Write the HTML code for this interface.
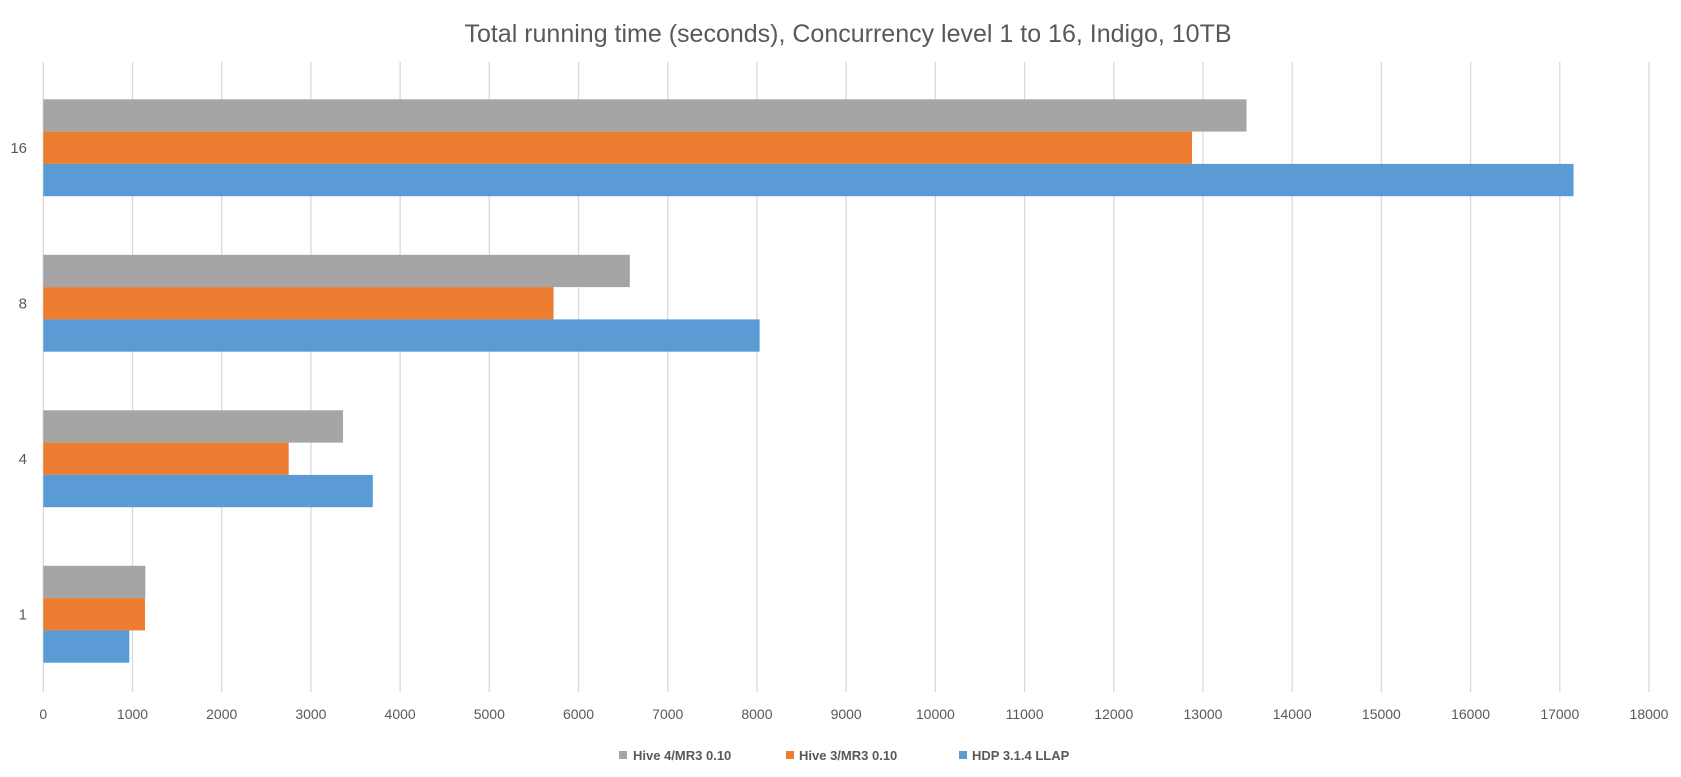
<!DOCTYPE html>
<html><head><meta charset="utf-8"><style>
html,body{margin:0;padding:0;background:#fff;}
svg{display:block;font-family:"Liberation Sans",sans-serif;}
</style></head><body>
<svg id="chart" width="1681" height="777" viewBox="0 0 1681 777">
<text x="848" y="42" text-anchor="middle" font-size="25" fill="#595959">Total running time (seconds), Concurrency level 1 to 16, Indigo, 10TB</text>
<g id="grid"></g>
<g id="bars"></g>
<g id="xlabels"></g>
<g id="ylabels"></g>
<g font-size="13" font-weight="bold" fill="#595959">
 <rect x="619" y="751" width="8" height="8" fill="#a5a5a5"/>
 <text x="633" y="760">Hive 4/MR3 0.10</text>
 <rect x="786" y="751" width="8" height="8" fill="#ed7d31"/>
 <text x="799" y="760">Hive 3/MR3 0.10</text>
 <rect x="959" y="751" width="8" height="8" fill="#5b9bd5"/>
 <text x="972" y="760">HDP 3.1.4 LLAP</text>
</g>
</svg>
<script>
const categories = ["16","8","4","1"];
const hive4 = [13488, 6575, 3360, 1144];
const hive3 = [12877, 5720, 2751, 1140];
const hdp = [17154, 8030, 3694, 964];
const xTicks = [0,1000,2000,3000,4000,5000,6000,7000,8000,9000,10000,11000,12000,13000,14000,15000,16000,17000,18000];

const NS="http://www.w3.org/2000/svg";
const x0=43.3, x1=1649, xMax=18000, yTop=70, yBot=692;
const band=(yBot-yTop)/categories.length, barH=32.3;
function xs(v){return x0+(x1-x0)*v/xMax;}
function ys(i){return yTop+band*i;}
function mk(tag,attrs,parent){const e=document.createElementNS(NS,tag);for(const k in attrs)e.setAttribute(k,attrs[k]);parent.appendChild(e);return e;}
const grid=document.getElementById('grid'),bars=document.getElementById('bars'),xl=document.getElementById('xlabels'),yl=document.getElementById('ylabels');
xTicks.forEach(t=>{
  const l=mk('line',{x1:xs(t),x2:xs(t),y1:yTop-8,y2:yBot,stroke:'#d9d9d9','stroke-width':1.3},grid);
  
  
  const tx=mk('text',{x:xs(t),y:719,'text-anchor':'middle','font-size':14,fill:'#595959'},xl);
  tx.textContent=t;
  
  
});
const series=[[hive4,'#a5a5a5','hive4'],[hive3,'#ed7d31','hive3'],[hdp,'#5b9bd5','hdp']];
categories.forEach((c,i)=>{
  const gap=(band-3*barH)/2;
  series.forEach((s,j)=>{
    const r=mk('rect',{x:x0,y:ys(i)+gap+j*barH,width:xs(s[0][i])-x0,height:barH,fill:s[1]},bars);
    
    
  });
  const t=mk('text',{x:27,y:ys(i)+band/2+5,'text-anchor':'end','font-size':15,fill:'#595959'},yl);
  t.textContent=c;
  
  
});
</script>
</body></html>
